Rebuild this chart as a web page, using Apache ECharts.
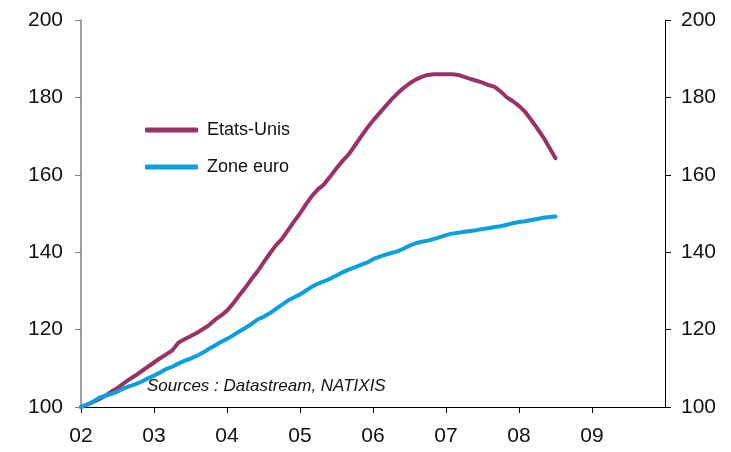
<!DOCTYPE html>
<html>
<head>
<meta charset="utf-8">
<script src="https://cdn.jsdelivr.net/npm/echarts@6/dist/echarts.min.js"></script>
<style>
  html, body { margin: 0; padding: 0; background: #fff; }
  #chart { width: 731px; height: 452px; }
</style>
</head>
<body>
<div id="chart"></div>
<script>
// monthly index, Jan 2002 = 100
const startYear = 2002
const yearTicks = [2002, 2003, 2004, 2005, 2006, 2007, 2008, 2009]
const yTicks = [100, 120, 140, 160, 180, 200]

const etatsUnis = [
  100.0, 100.6, 101.3, 102.0, 102.9, 104.0, 104.9, 106.1, 107.2, 108.2, 109.3, 110.4,
  111.5, 112.6, 113.6, 114.6, 116.6, 117.5, 118.3, 119.1, 120.1, 121.1, 122.5, 123.6,
  124.9, 126.7, 128.8, 130.8, 133.0, 135.0, 137.3, 139.6, 141.7, 143.4, 145.6, 147.9,
  150.0, 152.4, 154.6, 156.3, 157.6, 159.6, 161.7, 163.6, 165.3, 167.5, 169.8, 172.0,
  174.0, 175.8, 177.6, 179.4, 181.0, 182.4, 183.6, 184.6, 185.3, 185.8, 186.0, 186.0,
  186.0, 186.0, 185.8, 185.3, 184.8, 184.3, 183.8, 183.2, 182.7, 181.5, 180.0, 179.0,
  177.8, 176.3, 174.2, 172.0, 169.7, 167.0, 164.3
]

const zoneEuro = [
  100.0, 100.6, 101.4, 102.4, 102.9, 103.4, 104.0, 104.8, 105.4, 105.9, 106.6, 107.4,
  108.1, 108.9, 109.8, 110.4, 111.2, 111.9, 112.5, 113.2, 114.0, 115.0, 115.9, 116.8,
  117.6, 118.5, 119.5, 120.4, 121.4, 122.6, 123.3, 124.2, 125.3, 126.4, 127.5, 128.3,
  129.1, 130.1, 131.1, 131.9, 132.5, 133.2, 134.0, 134.8, 135.5, 136.1, 136.7, 137.3,
  138.2, 138.8, 139.3, 139.8, 140.2, 140.9, 141.7, 142.3, 142.7, 143.0, 143.4, 143.9,
  144.4, 144.8, 145.0, 145.3, 145.5, 145.7, 146.0, 146.2, 146.5, 146.7, 147.1, 147.5,
  147.8, 148.0, 148.3, 148.6, 148.9, 149.1, 149.2
]

const toPairs = arr => arr.map((v, i) => [startYear + i / 12, v])

const chart = echarts.init(document.getElementById('chart'))
const font = 'Liberation Sans, Arial, sans-serif'

chart.setOption({
  animation: false,
  grid: { left: 81, right: 66, top: 20, bottom: 45 },
  legend: {
    orient: 'vertical',
    left: 140,
    top: 116,
    itemWidth: 53,
    itemHeight: 5,
    itemGap: 19,
    icon: 'roundRect',
    textStyle: { fontFamily: font, fontSize: 18, color: '#111', padding: [0, 0, 0, 4] },
    data: ['Etats-Unis', 'Zone euro'],
  },
  xAxis: {
    type: 'value',
    min: 2002,
    max: 2010,
    interval: 1,
    splitLine: { show: false },
    axisLine: { lineStyle: { color: '#000', width: 1 } },
    axisTick: { show: true, length: 6, lineStyle: { color: '#000' }, customValues: yearTicks },
    axisLabel: {
      customValues: yearTicks,
      margin: 19,
      fontFamily: font,
      fontSize: 21,
      color: '#111',
      formatter: v => String(Math.round(v)).slice(2),
    },
  },
  yAxis: [
    {
      type: 'value', position: 'left', min: 100, max: 200, interval: 20,
      splitLine: { show: false },
      axisLine: { show: true, lineStyle: { color: '#808080', width: 1.5 } },
      axisTick: { show: true, length: 6, lineStyle: { color: '#808080' } },
      axisLabel: { margin: 18, fontFamily: font, fontSize: 21, color: '#111' },
    },
    {
      type: 'value', position: 'right', min: 100, max: 200, interval: 20,
      splitLine: { show: false },
      axisLine: { show: true, lineStyle: { color: '#000', width: 1 } },
      axisTick: { show: true, length: 6, lineStyle: { color: '#000' } },
      axisLabel: { margin: 16, fontFamily: font, fontSize: 21, color: '#111' },
    },
  ],
  graphic: [{
    type: 'text',
    left: 147,
    top: 378,
    style: {
      text: 'Sources : Datastream, NATIXIS',
      font: 'italic 17px ' + font,
      fill: '#111',
    },
  }],
  series: [
    {
      name: 'Etats-Unis', type: 'line', data: toPairs(etatsUnis),
      showSymbol: false, symbol: 'none',
      lineStyle: { color: '#993366', width: 4, cap: 'round', join: 'round' },
      itemStyle: { color: '#993366' },
      z: 2,
    },
    {
      name: 'Zone euro', type: 'line', data: toPairs(zoneEuro),
      showSymbol: false, symbol: 'none',
      lineStyle: { color: '#0A9FDD', width: 4, cap: 'round', join: 'round' },
      itemStyle: { color: '#0A9FDD' },
      z: 3,
    },
  ],
})
</script>
</body>
</html>
